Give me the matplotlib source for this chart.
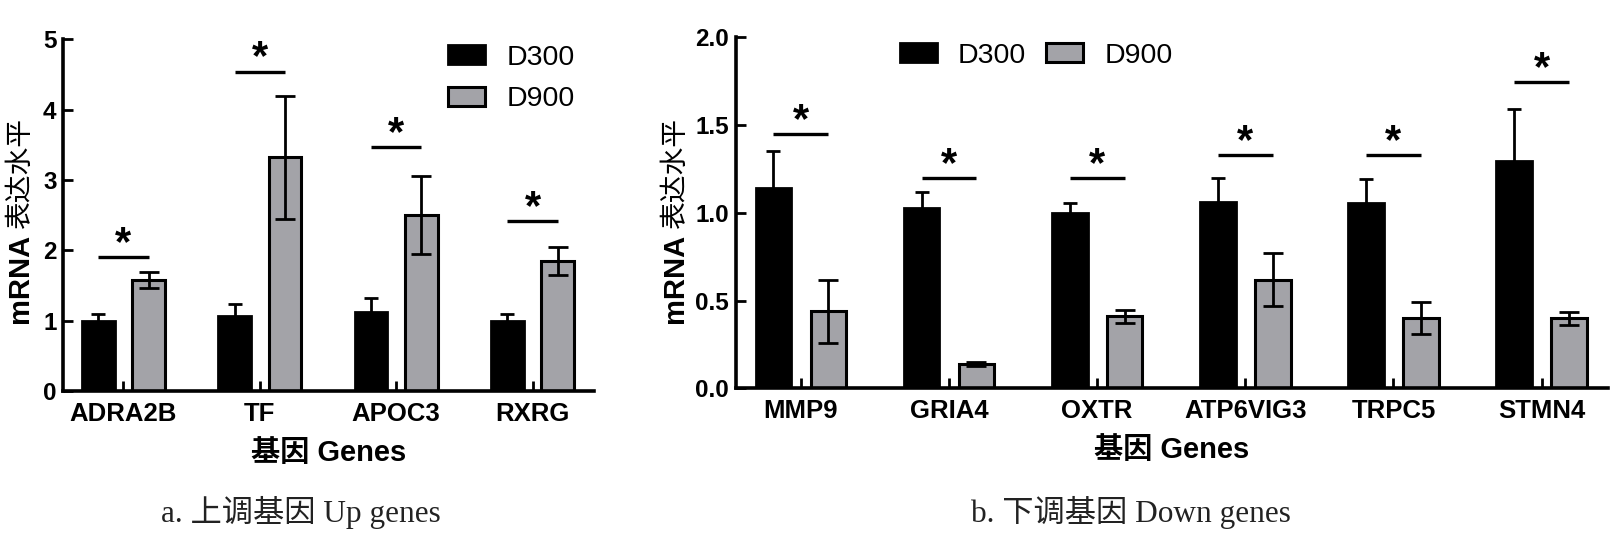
import numpy as np
import matplotlib
matplotlib.use('Agg')
import matplotlib.pyplot as plt

plt.rcParams['font.family'] = ['Liberation Sans', 'Noto Sans CJK SC', 'DejaVu Sans']

# 上调基因
up_genes = ['ADRA2B', 'TF', 'APOC3', 'RXRG']
up_d300 = [1.00, 1.07, 1.12, 1.00]
up_d300_err = [0.09, 0.17, 0.20, 0.09]
up_d900 = [1.58, 3.32, 2.50, 1.85]
up_d900_err = [0.11, 0.87, 0.55, 0.20]
up_sig = [1.90, 4.54, 3.47, 2.41]

# 下调基因
down_genes = ['MMP9', 'GRIA4', 'OXTR', 'ATP6VIG3', 'TRPC5', 'STMN4']
down_d300 = [1.14, 1.03, 1.00, 1.06, 1.055, 1.295]
down_d300_err = [0.21, 0.09, 0.055, 0.14, 0.14, 0.295]
down_d900 = [0.44, 0.14, 0.41, 0.62, 0.40, 0.40]
down_d900_err = [0.18, 0.012, 0.035, 0.15, 0.09, 0.037]
down_sig = [1.45, 1.20, 1.20, 1.33, 1.33, 1.745]

GRAY = '#a3a3a8'
W = 0.24      # 柱宽
OFF = 0.185   # 柱中心偏移

fig = plt.figure(figsize=(16.18, 5.47), dpi=100)
ax1 = fig.add_axes([0.0392, 0.2852, 0.3279, 0.643])
ax2 = fig.add_axes([0.4547, 0.2901, 0.5393, 0.6417])


def draw(ax, genes, d300, e300, d900, e900, sig):
    x = np.arange(len(genes))
    ax.bar(x - OFF, d300, W, color='black', edgecolor='black', linewidth=2, label='D300', zorder=2)
    ax.bar(x + OFF, d900, W, color=GRAY, edgecolor='black', linewidth=2.2, label='D900', zorder=2)
    ax.errorbar(x - OFF, d300, yerr=e300, fmt='none', ecolor='black', elinewidth=2,
                capsize=5, capthick=2, zorder=3)
    ax.errorbar(x + OFF, d900, yerr=e900, fmt='none', ecolor='black', elinewidth=2,
                capsize=7, capthick=2, zorder=3)
    for xi, h in zip(x, sig):
        ax.plot([xi - OFF, xi + OFF], [h, h], color='black', lw=2.4, solid_capstyle='butt')
        ax.annotate('*', xy=(xi, h), xytext=(0, 1.5), textcoords='offset points',
                    ha='center', va='baseline', fontsize=30, fontweight='bold')
    ax.set_xticks(x)
    ax.set_xticklabels(genes, fontsize=18.5, fontweight='bold')
    ax.set_xlim(-0.44, len(genes) - 1 + 0.45)
    for s in ['top', 'right']:
        ax.spines[s].set_visible(False)
    for s in ['left', 'bottom']:
        ax.spines[s].set_linewidth(2.6)
    ax.tick_params(axis='x', direction='in', length=7, width=2, pad=8)
    ax.tick_params(axis='y', direction='in', length=7, width=2, pad=5, labelsize=17.5)
    ax.set_xlabel('基因 Genes', fontsize=21, fontweight='bold', labelpad=9)


draw(ax1, up_genes, up_d300, up_d300_err, up_d900, up_d900_err, up_sig)
ax1.set_ylim(0, 5)
ax1.set_yticks(np.arange(0, 6, 1))
ax1.set_yticklabels([str(v) for v in range(6)], fontweight='bold')

draw(ax2, down_genes, down_d300, down_d300_err, down_d900, down_d900_err, down_sig)
ax2.set_ylim(0, 2)
ax2.set_yticks(np.arange(0, 2.01, 0.5))
ax2.set_yticklabels(['%.1f' % v for v in np.arange(0, 2.01, 0.5)], fontweight='bold')

leg_kw = dict(frameon=False, fontsize=20.5, handlelength=1.3, handleheight=0.66,
              handletextpad=0.75, borderpad=0, borderaxespad=0)
ax1.legend(loc='upper left', bbox_to_anchor=(0.725, 0.985), labelspacing=0.55, **leg_kw)
ax2.legend(loc='upper left', bbox_to_anchor=(0.188, 0.985), ncol=2, columnspacing=0.7, **leg_kw)

# 纵轴标题: mRNA 加粗, 中文细体
for ax, xx, yy in [(ax1, -0.082, 0.462), (ax2, -0.07, 0.455)]:
    ax.text(xx, yy - 0.015, 'mRNA', transform=ax.transAxes, rotation=90, ha='center', va='top',
            fontsize=21, fontweight='bold')
    ax.text(xx, yy, '表达水平', transform=ax.transAxes, rotation=90, ha='center', va='bottom',
            fontsize=20, family=['Noto Sans CJK SC'], fontweight='light')

cap_kw = dict(fontsize=22.5, color='#222222', ha='center', va='center',
              family=['Liberation Serif', 'Noto Sans CJK SC'])
fig.text(301 / 1618, 1 - 512 / 547, 'a. 上调基因 Up genes', **cap_kw)
fig.text(1131 / 1618, 1 - 512 / 547, 'b. 下调基因 Down genes', **cap_kw)

fig.savefig('out.png', dpi=100)
